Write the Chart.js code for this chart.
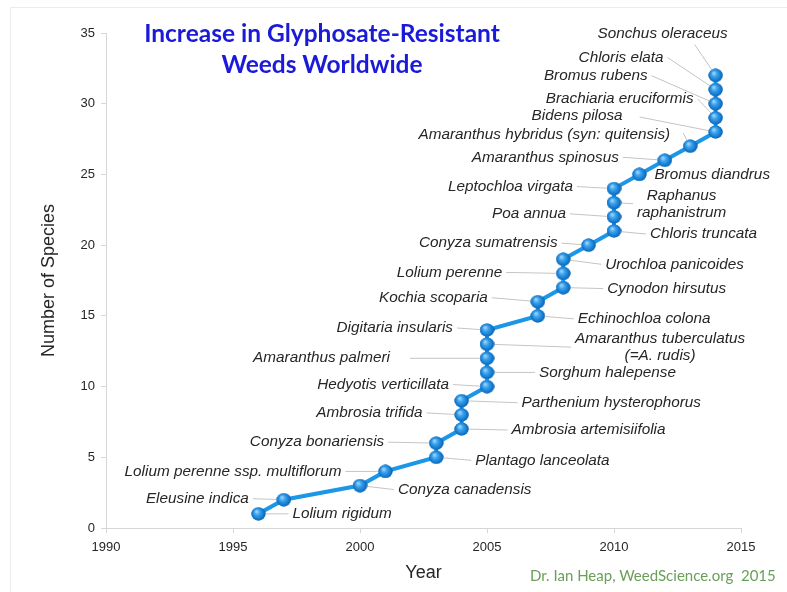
<!DOCTYPE html>
<html>
<head>
<meta charset="utf-8">
<script src="https://cdn.jsdelivr.net/npm/chart.js@4.4.1/dist/chart.umd.min.js"></script>
<style>
	html, body { margin: 0; padding: 0; background: #fff; }
	#wrap { position: relative; width: 787px; height: 592px; }
	#chart-title {
		position: absolute; left: 102px; top: 17px; width: 440px;
		text-align: center; color: #1a1ad8; font: bold 24.5px Lato, "Open Sans", sans-serif;
		line-height: 31px;
	}
	#credit {
		position: absolute; left: 530px; top: 566px; color: #6a9f58;
		font: 15px Lato, "Open Sans", sans-serif;
	}
	#frame {
		position: absolute; left: 10px; top: 7px; right: 0; bottom: 0;
		border-left: 1px solid #ececec; border-top: 1px solid #ececec;
	}
</style>
</head>
<body>
<div id="wrap">
	<div id="frame"></div>
	<canvas id="weeds-graph" width="787" height="592"></canvas>
	<div id="chart-title">Increase in Glyphosate-Resistant<br>Weeds Worldwide</div>
	<div id="credit">Dr. Ian Heap, WeedScience.org&nbsp; 2015</div>
</div>
<script>
const years = [1996, 1997, 2000, 2001, 2003, 2003, 2004, 2004, 2004, 2005, 2005, 2005, 2005, 2005, 2007, 2007,
	2008, 2008, 2008, 2009, 2010, 2010, 2010, 2010, 2011, 2012, 2013, 2014, 2014, 2014, 2014, 2014];
const speciesCount = [1, 2, 3, 4, 5, 6, 7, 8, 9, 10, 11, 12, 13, 14, 15, 16,
	17, 18, 19, 20, 21, 22, 23, 24, 25, 26, 27, 28, 29, 30, 31, 32];
const speciesNames = [
	["Lolium rigidum"],
	["Eleusine indica"],
	["Conyza canadensis"],
	["Lolium perenne ssp. multiflorum"],
	["Plantago lanceolata"],
	["Conyza bonariensis"],
	["Ambrosia artemisiifolia"],
	["Ambrosia trifida"],
	["Parthenium hysterophorus"],
	["Hedyotis verticillata"],
	["Sorghum halepense"],
	["Amaranthus palmeri"],
	["Amaranthus tuberculatus", "(=A. rudis)"],
	["Digitaria insularis"],
	["Echinochloa colona"],
	["Kochia scoparia"],
	["Cynodon hirsutus"],
	["Lolium perenne"],
	["Urochloa panicoides"],
	["Conyza sumatrensis"],
	["Chloris truncata"],
	["Poa annua"],
	["Raphanus", "raphanistrum"],
	["Leptochloa virgata"],
	["Bromus diandrus"],
	["Amaranthus spinosus"],
	["Amaranthus hybridus (syn: quitensis)"],
	["Bidens pilosa"],
	["Brachiaria eruciformis"],
	["Bromus rubens"],
	["Chloris elata"],
	["Sonchus oleraceus"],
];
const xTicks = [1990, 1995, 2000, 2005, 2010, 2015];
const yTicks = [0, 5, 10, 15, 20, 25, 30, 35];

// label placement, pixel offsets from each point: [dx, dy, side, leaderStart?]
const labelLayout = [
	[34, 0, "left"], [-35, -1, "right"], [38, 4, "left"], [-44, 0, "right"],
	[39, 3, "left"], [-52, -1, "right"], [50, 1, "left"], [-39, -2, "right"],
	[60, 2, "left"], [-38, -2, "right"], [52, 0, "left"], [-97, -1, "right", [-77, 0]],
	[88, -5, "left"], [-34, -2, "right"], [40, 3, "left"], [-50, -4, "right"],
	[44, 1, "left"], [-61, -1, "right"], [42, 5, "left"], [-31, -2, "right"],
	[36, 3, "left"], [-48, -3, "right"], [23, -7, "left"], [-41, -2, "right"],
	[15, 0, "left", null], [-46, -3, "right"], [-20, -11, "right", [-7, -13]], [-93, -16, "right", [-76, -15]],
	[-22, -19, "right"], [-68, -28, "right"], [-52, -32, "right"], [12, -42, "right", [-21, -31]],
];

// glossy blue ball used as point marker
const makeBall = () => {
	const c = document.createElement("canvas");
	c.width = 15;
	c.height = 14;
	const g = c.getContext("2d");
	const grad = g.createRadialGradient(5.5, 4.5, 0.5, 7.5, 7, 7.5);
	grad.addColorStop(0, "#9fd6ff");
	grad.addColorStop(0.35, "#3aa2ec");
	grad.addColorStop(0.8, "#1074c8");
	grad.addColorStop(1, "#0a5ea8");
	g.fillStyle = grad;
	g.beginPath();
	g.ellipse(7.5, 7, 7, 6.5, 0, 0, Math.PI * 2);
	g.fill();
	return c;
};

const speciesLabels = {
	id: "speciesLabels",
	afterDatasetsDraw(chart) {
		const ctx = chart.ctx;
		const meta = chart.getDatasetMeta(0);
		ctx.save();
		ctx.font = "italic 15.3px 'Liberation Sans', Arial, sans-serif";
		ctx.textBaseline = "middle";
		meta.data.forEach((pt, i) => {
			const [dx, dy, side, leader] = labelLayout[i];
			const lines = speciesNames[i];
			const widths = lines.map((t) => ctx.measureText(t).width);
			const w = Math.max(...widths);
			const x0 = pt.x + dx;
			const y0 = pt.y + dy;
			const cx = side === "left" ? x0 + w / 2 : x0 - w / 2;
			// leader line
			if (leader !== null) {
				let sx, sy;
				if (leader) {
					sx = pt.x + leader[0];
					sy = pt.y + leader[1];
				} else {
					sx = side === "left" ? x0 - 4 : x0 + 4;
					sy = y0 + (lines.length - 1) * 8;
				}
				ctx.strokeStyle = "#c4c4c4";
				ctx.lineWidth = 1;
				ctx.beginPath();
				ctx.moveTo(sx, sy);
				ctx.lineTo(pt.x, pt.y);
				ctx.stroke();
			}
			ctx.fillStyle = "#262626";
			lines.forEach((t, k) => {
				ctx.textAlign = lines.length > 1 ? "center" : side;
				const tx = lines.length > 1 ? cx : x0;
				ctx.fillText(t, tx, y0 + k * 17);
			});
		});
		// redraw the balls on top of the leader lines
		meta.data.forEach((pt) => pt.draw(ctx, chart.chartArea));
		ctx.restore();
	},
};

const getConfig = () => {
	return {
		type: "line",
		data: {
			datasets: [
				{
					data: years.map((y, i) => ({ x: y, y: speciesCount[i] })),
					borderColor: "#1c97e8",
					borderWidth: 4,
					pointStyle: makeBall(),
					pointRadius: 7,
					tension: 0,
				},
			],
		},
		options: {
			responsive: false,
			animation: false,
			layout: { padding: { top: 33, right: 46, left: 0, bottom: 0 } },
			scales: {
				x: {
					type: "linear",
					min: 1990,
					max: 2015,
					afterBuildTicks: (scale) => {
						scale.ticks = xTicks.map((v) => ({ value: v }));
					},
					afterFit: (scale) => {
						scale.height = 64;
					},
					border: { color: "#d6d6d6" },
					grid: { drawOnChartArea: false, tickLength: 5, color: "#d6d6d6" },
					ticks: {
						color: "#262626",
						padding: 7,
						font: { family: "'Liberation Sans', Arial", size: 13 },
						callback: (v) => String(v),
					},
					title: {
						display: true,
						text: "Year",
						color: "#262626",
						font: { family: "'Liberation Sans', Arial", size: 18 },
						padding: { top: 4, bottom: 8 },
					},
				},
				y: {
					min: 0,
					max: 35,
					afterBuildTicks: (scale) => {
						scale.ticks = yTicks.map((v) => ({ value: v }));
					},
					afterFit: (scale) => {
						scale.width = 106;
					},
					border: { color: "#d6d6d6" },
					grid: { drawOnChartArea: false, tickLength: 5, color: "#d6d6d6" },
					ticks: {
						color: "#262626",
						padding: 6,
						font: { family: "'Liberation Sans', Arial", size: 13 },
					},
					title: {
						display: true,
						text: "Number of Species",
						color: "#262626",
						font: { family: "'Liberation Sans', Arial", size: 18 },
						padding: { top: 38, bottom: 0 },
					},
				},
			},
			plugins: {
				legend: { display: false },
				tooltip: { enabled: false },
			},
		},
		plugins: [speciesLabels],
	};
};

const weedsGraph = new Chart(document.getElementById("weeds-graph"), getConfig());
</script>
</body>
</html>
